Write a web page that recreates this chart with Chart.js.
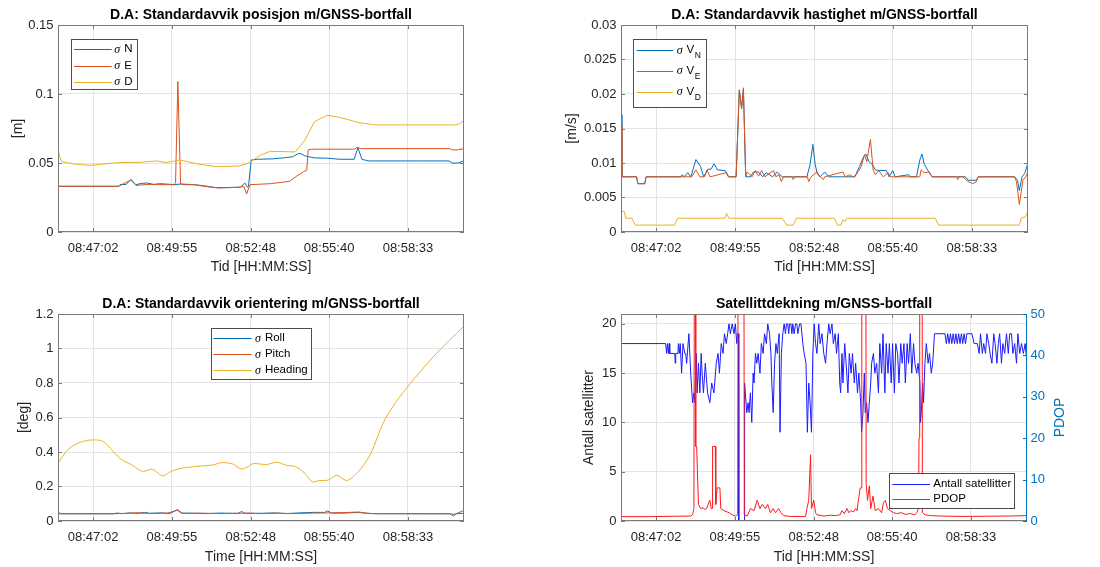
<!DOCTYPE html>
<html>
<head>
<meta charset="utf-8">
<title>GNSS-bortfall</title>
<script src="https://cdn.jsdelivr.net/npm/chart.js@4.4.1/dist/chart.umd.min.js"></script>
<style>
  html, body { margin: 0; padding: 0; background: #fff; }
  #wrap { position: relative; width: 1100px; height: 567px; overflow: hidden; }
  canvas { position: absolute; }
</style>
</head>
<body>
<div id="wrap">
  <canvas id="posChart" width="550" height="283" style="left:0;top:0"></canvas>
  <canvas id="velChart" width="550" height="283" style="left:550px;top:0"></canvas>
  <canvas id="attChart" width="550" height="277" style="left:0;top:290px"></canvas>
  <canvas id="satChart" width="550" height="277" style="left:550px;top:290px"></canvas>
</div>
<script>
// time axis: seconds after startTime
const startTime = "08:45:45";
const endSec = 891;
const xTickLabels = ["08:47:02", "08:49:55", "08:52:48", "08:55:40", "08:58:33"];

// y tick values
const posTicks = [0, 0.05, 0.1, 0.15];
const velTicks = [0, 0.005, 0.01, 0.015, 0.02, 0.025, 0.03];
const attTicks = [0, 0.2, 0.4, 0.6, 0.8, 1, 1.2];
const satTicks = [0, 5, 10, 15, 20];
const pdopTicks = [0, 10, 20, 30, 40, 50];

// [seconds, value]
const posN = [[0,0.0331],[133,0.0331],[136,0.0343],[150,0.0345],[160,0.0382],[166,0.036],[171,0.0343],[183,0.0352],[195,0.0355],[210,0.0345],
  [223,0.035],[240,0.0347],[254,0.0343],[271,0.0348],[285,0.0345],[299,0.0343],[320,0.0335],[348,0.0321],[380,0.0323],[400,0.0324],
  [410,0.0355],[416,0.0324],[418,0.033],[424,0.0522],[438,0.0527],[470,0.053],[494,0.0537],[515,0.0545],[528,0.057],[535,0.0565],
  [542,0.0551],[563,0.0537],[590,0.0535],[619,0.0527],[650,0.0527],[658,0.0611],[667,0.0527],[681,0.0515],[720,0.0515],[800,0.0515],
  [858,0.0515],[866,0.0498],[878,0.05],[891,0.0515]];
const posE = [[0,0.0331],[133,0.0331],[160,0.0377],[171,0.0338],[200,0.0345],[223,0.0343],[254,0.0343],[258,0.0355],[263,0.109],[269,0.0355],
  [271,0.0343],[299,0.0343],[320,0.0331],[351,0.0319],[380,0.0322],[396,0.0324],[408,0.0331],[414,0.0276],[421,0.0343],[466,0.035],
  [508,0.0367],[522,0.0401],[539,0.0437],[546,0.0449],[549,0.0595],[556,0.06],[650,0.06],[657,0.0614],[664,0.0604],[860,0.0604],
  [866,0.0595],[876,0.0595],[891,0.0604]];
const posD = [[0,0.0614],[3,0.055],[8,0.051],[35,0.0493],[70,0.0483],[133,0.0503],[180,0.0505],[216,0.0515],[237,0.0503],[268,0.0522],
  [306,0.0493],[348,0.0474],[396,0.0478],[417,0.0497],[445,0.0558],[466,0.0585],[521,0.058],[542,0.0667],[563,0.08],[591,0.0846],
  [619,0.083],[660,0.0793],[695,0.0776],[870,0.0776],[882,0.0785],[891,0.081]];

const velN = [[0,0.017],[2,0.008],[34,0.008],[37,0.007],[52,0.007],[55,0.008],[131,0.008],[134,0.0083],[138,0.008],[146,0.0086],
  [153,0.008],[164,0.0105],[174,0.0095],[181,0.008],[190,0.0091],[197,0.0091],[204,0.0099],[211,0.009],[228,0.0089],[235,0.008],
  [252,0.008],[259,0.0206],[264,0.0179],[268,0.0206],[273,0.008],[283,0.008],[290,0.0087],[301,0.0087],[310,0.008],[318,0.0086],
  [332,0.008],[342,0.0087],[353,0.008],[407,0.008],[414,0.0098],[420,0.0127],[425,0.0098],[430,0.0084],[436,0.008],[446,0.0087],
  [455,0.008],[512,0.008],[522,0.0095],[531,0.0109],[536,0.0113],[543,0.0102],[550,0.0098],[557,0.009],[567,0.0089],[581,0.0089],
  [587,0.008],[595,0.0089],[600,0.008],[630,0.0083],[633,0.008],[647,0.008],[654,0.0104],[659,0.0113],[664,0.0098],[675,0.0086],
  [681,0.008],[754,0.008],[760,0.0075],[778,0.0075],[782,0.008],[862,0.008],[868,0.0075],[872,0.006],[878,0.008],[884,0.0085],[891,0.01]];
const velE = [[0,0.0155],[2,0.008],[34,0.008],[37,0.007],[52,0.007],[55,0.008],[155,0.008],[164,0.009],[173,0.008],[183,0.008],
  [188,0.009],[195,0.008],[231,0.0086],[236,0.008],[252,0.008],[259,0.0206],[264,0.0179],[268,0.0209],[273,0.008],[276,0.0087],
  [287,0.008],[294,0.0089],[301,0.0081],[308,0.0089],[315,0.008],[334,0.0089],[339,0.008],[346,0.0083],[351,0.0073],[356,0.008],
  [374,0.008],[377,0.0076],[380,0.008],[408,0.008],[411,0.0073],[416,0.008],[429,0.0087],[436,0.008],[443,0.0076],[446,0.008],
  [486,0.0087],[491,0.008],[501,0.0083],[508,0.008],[515,0.0083],[526,0.0095],[533,0.0112],[538,0.0102],[546,0.0134],[552,0.009],
  [557,0.0083],[564,0.0089],[574,0.008],[585,0.0086],[589,0.008],[654,0.008],[657,0.009],[664,0.0086],[675,0.0087],[681,0.008],
  [735,0.008],[737,0.0076],[740,0.008],[748,0.008],[760,0.0073],[770,0.007],[778,0.0073],[782,0.008],[862,0.008],[866,0.0072],
  [872,0.004],[880,0.0075],[886,0.008],[891,0.0087]];
const velD = [[0,0.003],[7,0.003],[10,0.002],[24,0.002],[31,0.001],[117,0.001],[124,0.002],[228,0.002],[231,0.0027],[236,0.002],
  [353,0.002],[363,0.001],[377,0.001],[384,0.002],[467,0.002],[474,0.001],[481,0.001],[486,0.0018],[490,0.0015],[495,0.002],
  [688,0.002],[695,0.001],[872,0.001],[876,0.002],[885,0.0022],[891,0.003]];

const attRoll = [[0,0.045],[5,0.042],[120,0.042],[130,0.046],[140,0.043],[160,0.047],[175,0.044],[190,0.05],[200,0.045],[230,0.047],
  [245,0.043],[262,0.066],[272,0.046],[300,0.045],[330,0.043],[355,0.046],[395,0.044],[403,0.055],[410,0.044],[450,0.045],
  [478,0.047],[500,0.043],[530,0.047],[560,0.05],[585,0.05],[592,0.058],[600,0.046],[630,0.046],[660,0.05],[680,0.044],
  [700,0.042],[860,0.042],[868,0.038],[875,0.042],[891,0.045]];
const attPitch = [[0,0.06],[4,0.042],[120,0.042],[150,0.044],[175,0.048],[200,0.043],[240,0.046],[262,0.062],[272,0.044],[320,0.045],
  [360,0.043],[420,0.046],[440,0.043],[480,0.045],[520,0.043],[560,0.046],[600,0.047],[640,0.05],[660,0.052],[675,0.046],
  [690,0.043],[860,0.042],[868,0.028],[874,0.042],[891,0.062]];
const attHeading = [[0,0.335],[21,0.412],[49,0.456],[77,0.47],[98,0.463],[115,0.421],[136,0.363],[160,0.328],[188,0.288],[205,0.3],
  [216,0.286],[230,0.261],[247,0.286],[265,0.302],[285,0.311],[313,0.319],[341,0.325],[358,0.338],[383,0.331],[403,0.302],
  [414,0.311],[431,0.334],[455,0.327],[480,0.34],[501,0.323],[521,0.315],[542,0.276],[560,0.226],[573,0.234],[591,0.236],
  [612,0.265],[633,0.235],[653,0.27],[671,0.325],[688,0.4],[713,0.565],[742,0.69],[768,0.78],[823,0.95],[891,1.13]];

const satCount = [[0,18],[98,18],[100,17],[102,18],[104,17],[106,18],[107,17],[118,17],[119,16],[120,17],[125,17],[126,18],[128,17],[130,18],
  [133,15],[136,18],[140,17],[142,17],[144,16],[149,19],[153,15],[157,12],[160,13],[162,12],[165,17],[167,13],[170,16],[173,13],
  [176,17],[178,15],[181,13],[185,16],[190,13],[195,12],[199,14],[204,13],[209,16],[213,17],[216,15],[220,18],[224,17],[227,19],
  [231,18],[234,19],[237,20],[240,19],[244,20],[248,19],[251,20],[254,18],[256,19],[258,19],[258.5,0],[270,0],[270.5,14],[272,14],
  [276,11],[279,12],[281,11],[284,13],[287,10],[290,15],[292,14],[295,17],[298,16],[301,17],[305,15],[308,18],[312,17],[315,19],
  [319,18],[322,20],[326,19],[329,17],[331,14],[334,11],[337,16],[340,18],[343,17],[347,19],[349,9],[352,17],[355,19],[358,20],
  [361,19],[363,20],[366,20],[368,19],[370,20],[373,20],[375,19],[377,20],[380,19],[383,20],[386,20],[388,19],[392,20],[395,20],
  [399,18],[402,17],[406,16],[409,9],[412,14],[415,12],[418,9],[421,17],[424,20],[427,18],[430,17],[434,20],[437,18],[441,19],
  [445,17],[449,16],[452,18],[456,20],[459,19],[463,20],[466,18],[470,19],[473,17],[477,19],[480,14],[482,13],[485,17],[487,14],
  [491,18],[494,16],[498,13],[501,17],[505,15],[508,17],[512,14],[515,16],[519,13],[522,15],[526,12],[528,9],[531,11],[534,15],
  [536,11],[539,12],[542,10],[545,12],[548,14],[550,16],[554,17],[557,15],[561,16],[565,13],[568,18],[572,15],[575,19],[579,13],
  [582,18],[586,15],[589,18],[593,14],[596,18],[600,13],[603,18],[607,17],[610,14],[614,18],[617,16],[621,18],[624,14],[628,18],
  [631,16],[635,19],[638,15],[642,18],[645,16],[649,15],[652,16],[656,14],[657,10],[659,11],[662,14],[664,12],[667,16],[670,18],
  [674,16],[677,17],[681,15],[684,16],[688,19],[711,19],[714,18],[717,19],[720,18],[723,19],[726,18],[729,19],[732,18],[735,19],
  [738,18],[741,19],[744,18],[747,19],[750,18],[753,19],[756,18],[759,19],[770,19],[775,18],[782,18],[786,17],[789,19],[793,17],
  [796,18],[800,17],[803,19],[807,18],[810,17],[814,16],[818,19],[821,18],[825,16],[828,18],[831,19],[835,16],[838,18],[842,17],
  [846,19],[850,17],[853,19],[857,19],[860,17],[864,18],[868,16],[871,19],[875,17],[879,18],[883,17],[887,18],[891,16]];
const pdop = [[0,1.05],[60,1.05],[120,1.15],[153,1.2],[157,1.5],[160,3],[161.5,99],[163.5,99],[164,18],[166,18],[170,4],[175,3],
  [180,3.2],[184,2.8],[188,3],[191,4],[195,5],[198,3],[200,3],[201,18],[207,18],[208,4],[211,8],[217,8],[219,3],[226,2.5],
  [237,2],[244,1.5],[251,1.2],[256,1.5],[257.5,99],[269.5,99],[270.5,1.5],[277,1.2],[284,3],[292,2.5],[299,5],[305,3],[310,4],
  [317,3],[322,4],[328,2],[334,3],[339,2],[346,3],[351,2],[357,1.3],[372,1.1],[405,1.1],[408,3],[412,5],[416,16],[418,3],[423,5],
  [427,2],[430,1.5],[445,1.2],[460,1.4],[470,1.3],[481,1.5],[485,2.5],[490,1.8],[496,3],[500,2],[505,2.5],[510,2.2],[515,3],
  [518,2.5],[521,5],[525,8],[527.5,8],[528.5,99],[537,99],[538,9],[541,5],[545,8.5],[548,3],[553,6],[558,2.5],[565,3],[572,2],
  [576,4.5],[580,5],[585,3],[591,2.5],[598,2],[605,1.8],[615,2],[625,1.6],[635,1.8],[645,1.5],[649,2],[653,3],[654,20],[655.5,99],
  [660.5,99],[661.5,2],[667,1.5],[680,1.3],[700,1.2],[750,1.1],[800,1.15],[850,1.2],[891,1.3]];

const BLUE = "#0072BD", ORANGE = "#D95319", YELLOW = "#EDB120";
const GRID = "#e3e3e3", FRAME = "#7a7a7a", TXT = "#262626";
const FONT = '"Liberation Sans", Arial, Helvetica, sans-serif';

Chart.defaults.font.family = FONT;
Chart.defaults.color = TXT;

function hms(s) {
  const p = s.split(":").map(Number);
  return p[0] * 3600 + p[1] * 60 + p[2];
}
const xTickSec = xTickLabels.map(l => hms(l) - hms(startTime));

function pts(arr) { return arr.map(p => ({ x: p[0], y: p[1] })); }

function fmt(v) { return String(+v.toFixed(4)); }

// legend boxes, MATLAB style (canvas coordinates)
const legendSpecs = {
  posChart: { x: 70.5, y: 39, w: 66, h: 50, rows: [49.3, 65.7, 81.7], line: [74, 111.7], text: 114.3 },
  velChart: { x: 83, y: 39.3, w: 73, h: 68, rows: [50, 70.7, 91.7], line: [86.7, 123.3], text: 126.7 },
  attChart: { x: 210.7, y: 37.7, w: 100.3, h: 50.6, rows: [48.3, 64, 80], line: [213.3, 251.7], text: 255 },
  satChart: { x: 339, y: 183.3, w: 125.3, h: 35, rows: [194, 209.3], line: [342.3, 380], text: 383.3 }
};

function drawLabel(ctx, label, x, y) {
  ctx.fillStyle = "#000";
  ctx.textBaseline = "middle";
  ctx.textAlign = "left";
  let rest = label;
  if (label.startsWith("σ ")) {
    ctx.font = 'italic 12px "Liberation Serif", serif';
    ctx.fillText("σ", x, y + 0.5);
    x += ctx.measureText("σ").width + 4;
    rest = label.slice(2);
  }
  ctx.font = "11.5px " + FONT;
  if (rest.includes("_")) {
    const [main, sub] = rest.split("_");
    ctx.fillText(main, x, y);
    x += ctx.measureText(main).width + 0.5;
    ctx.font = "8.5px " + FONT;
    ctx.fillText(sub, x, y + 6);
  } else {
    ctx.fillText(rest, x, y);
  }
}

const matlabFrame = {
  id: "matlabFrame",
  afterDraw(chart) {
    const { ctx, chartArea: a } = chart;
    const L = 4;
    const seg = (x1, y1, x2, y2) => { ctx.beginPath(); ctx.moveTo(x1, y1); ctx.lineTo(x2, y2); ctx.stroke(); };
    ctx.save();
    ctx.lineWidth = 1;
    ctx.strokeStyle = FRAME;
    const xs = chart.scales.x;
    xs.ticks.forEach(t => {
      const px = Math.round(xs.getPixelForValue(t.value)) + 0.5;
      seg(px, a.bottom, px, a.bottom - L);
      seg(px, a.top, px, a.top + L);
    });
    const ys = chart.scales.y;
    const hasRight = !!chart.scales.y2;
    ys.ticks.forEach(t => {
      const py = Math.round(ys.getPixelForValue(t.value)) + 0.5;
      seg(a.left, py, a.left + L, py);
      if (!hasRight) seg(a.right, py, a.right - L, py);
    });
    // box
    seg(a.left + 0.5, a.top + 0.5, a.right - 0.5, a.top + 0.5);
    seg(a.left + 0.5, a.bottom - 0.5, a.right - 0.5, a.bottom - 0.5);
    seg(a.left + 0.5, a.top, a.left + 0.5, a.bottom);
    if (hasRight) ctx.strokeStyle = BLUE;
    seg(a.right - 0.5, a.top, a.right - 0.5, a.bottom);
    if (hasRight) {
      const y2 = chart.scales.y2;
      y2.ticks.forEach(t => {
        const py = Math.round(y2.getPixelForValue(t.value)) + 0.5;
        seg(a.right, py, a.right - L, py);
      });
      // right axis label, reads bottom to top like the left one
      ctx.save();
      ctx.translate(chart.width - 40, (a.top + a.bottom) / 2);
      ctx.rotate(-Math.PI / 2);
      ctx.fillStyle = BLUE;
      ctx.font = "14px " + FONT;
      ctx.textAlign = "center";
      ctx.textBaseline = "middle";
      ctx.fillText("PDOP", 0, 0);
      ctx.restore();
    }

    const lg = legendSpecs[chart.canvas.id];
    if (lg) {
      ctx.fillStyle = "#fff";
      ctx.fillRect(lg.x, lg.y, lg.w, lg.h);
      ctx.strokeStyle = "#4d4d4d";
      ctx.strokeRect(Math.round(lg.x) + 0.5, Math.round(lg.y) + 0.5, Math.round(lg.w), Math.round(lg.h));
      chart.data.datasets.forEach((ds, i) => {
        const y = Math.round(lg.rows[i]) + 0.5;
        ctx.strokeStyle = ds.borderColor;
        ctx.lineWidth = 1;
        seg(lg.line[0], y, lg.line[1], y);
        drawLabel(ctx, ds.label, lg.text, lg.rows[i]);
      });
    }
    ctx.restore();
  }
};

function xScale(label, titleBottom, height) {
  return {
    type: "linear", min: 0, max: endSec,
    afterBuildTicks: s => { s.ticks = xTickSec.map(v => ({ value: v })); },
    afterFit: s => { s.height = height; },
    ticks: {
      autoSkip: false, maxRotation: 0, minRotation: 0, padding: 8.5,
      font: { size: 13 }, color: TXT,
      callback: v => xTickLabels[xTickSec.indexOf(v)]
    },
    grid: { color: GRID, drawTicks: false },
    border: { display: false },
    title: { display: true, text: label, color: TXT, font: { size: 14 }, padding: { top: 0, bottom: titleBottom } }
  };
}

function yScale(ticks, width, label, titleTop, extra) {
  return Object.assign({
    type: "linear", position: "left",
    min: ticks[0], max: ticks[ticks.length - 1],
    afterBuildTicks: s => { s.ticks = ticks.map(v => ({ value: v })); },
    afterFit: s => { s.width = width; },
    ticks: { padding: 4.5, font: { size: 13 }, color: TXT, callback: v => fmt(v) },
    grid: { color: GRID, drawTicks: false },
    border: { display: false },
    title: { display: true, text: label, color: TXT, font: { size: 14 }, padding: { top: titleTop, bottom: 0 } }
  }, extra || {});
}

function baseOptions(title, titlePad, padRight, scales) {
  return {
    responsive: false,
    maintainAspectRatio: false,
    animation: false,
    devicePixelRatio: 1,
    events: [],
    layout: { padding: { left: 0, right: padRight, top: 0, bottom: 0 } },
    elements: { point: { radius: 0 }, line: { borderWidth: 1, tension: 0 } },
    plugins: {
      legend: { display: false },
      tooltip: { enabled: false },
      title: {
        display: true, text: title, fullSize: false, color: "#000",
        font: { size: 14, weight: "bold" }, padding: titlePad
      }
    },
    scales: scales
  };
}

function line(label, data, color, order, extra) {
  return Object.assign({ label: label, data: pts(data), borderColor: color, backgroundColor: color,
    borderWidth: 1, pointRadius: 0, fill: false, order: order }, extra || {});
}

new Chart(document.getElementById("posChart"), {
  type: "line",
  data: { datasets: [
    line("σ N", posN, BLUE, 3),
    line("σ E", posE, ORANGE, 2),
    line("σ D", posD, YELLOW, 1)
  ] },
  options: baseOptions("D.A: Standardavvik posisjon m/GNSS-bortfall", { top: 6.6, bottom: 1.6 }, 86, {
    x: xScale("Tid [HH:MM:SS]", 7.3, 51),
    y: yScale(posTicks, 58, "[m]", 9.4)
  }),
  plugins: [matlabFrame]
});

new Chart(document.getElementById("velChart"), {
  type: "line",
  data: { datasets: [
    line("σ V_N", velN, BLUE, 3),
    line("σ V_E", velE, ORANGE, 2),
    line("σ V_D", velD, YELLOW, 1)
  ] },
  options: baseOptions("D.A: Standardavvik hastighet m/GNSS-bortfall", { top: 6.6, bottom: 1.6 }, 72, {
    x: xScale("Tid [HH:MM:SS]", 7.3, 51),
    y: yScale(velTicks, 71, "[m/s]", 13.3)
  }),
  plugins: [matlabFrame]
});

new Chart(document.getElementById("attChart"), {
  type: "line",
  data: { datasets: [
    line("σ Roll", attRoll, BLUE, 3),
    line("σ Pitch", attPitch, ORANGE, 2),
    line("σ Heading", attHeading, YELLOW, 1, { cubicInterpolationMode: "monotone" })
  ] },
  options: baseOptions("D.A: Standardavvik orientering m/GNSS-bortfall", { top: 5.6, bottom: 1.6 }, 86, {
    x: xScale("Time [HH:MM:SS]", 1.9, 46),
    y: yScale(attTicks, 58, "[deg]", 15.6)
  }),
  plugins: [matlabFrame]
});

new Chart(document.getElementById("satChart"), {
  type: "line",
  data: { datasets: [
    line("Antall satellitter", satCount, "#1a1aff", 2, { yAxisID: "y" }),
    line("PDOP", pdop, "#ff1a1a", 1, { yAxisID: "y2" })
  ] },
  options: baseOptions("Satellittdekning m/GNSS-bortfall", { top: 5.6, bottom: 1.6 }, 0, {
    x: xScale("Tid [HH:MM:SS]", 1.9, 46),
    y: yScale(satTicks, 71, "Antall satellitter", 30.9, { max: 21 }),
    y2: {
      type: "linear", position: "right", min: 0, max: 50,
      afterBuildTicks: s => { s.ticks = pdopTicks.map(v => ({ value: v })); },
      afterFit: s => { s.width = 73; },
      ticks: { padding: 3.5, font: { size: 13 }, color: BLUE, callback: v => fmt(v) },
      grid: { display: false, drawTicks: false },
      border: { display: false },
      title: { display: false }
    }
  }),
  plugins: [matlabFrame]
});
</script>
</body>
</html>
